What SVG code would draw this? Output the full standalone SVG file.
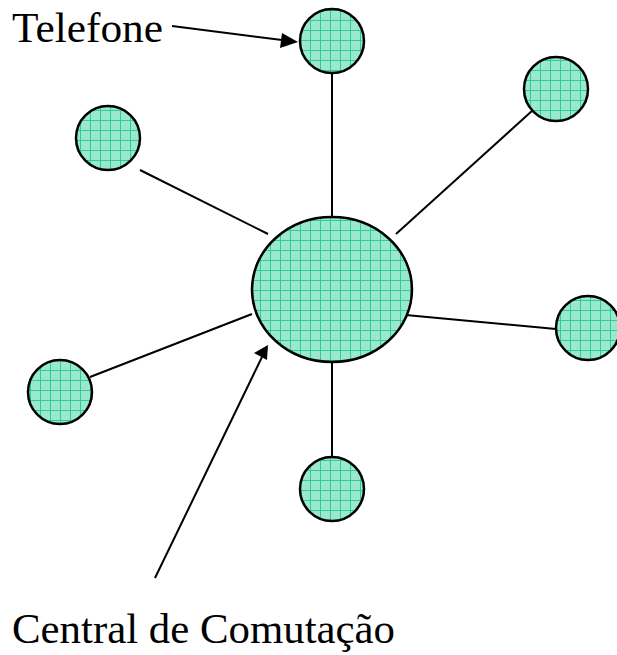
<svg xmlns="http://www.w3.org/2000/svg" width="617" height="655" viewBox="0 0 617 655">
<style>
.node{fill:url(#grid);stroke:#000;stroke-width:2.5}
.conn{stroke:#000;stroke-width:2;fill:none}
.lbl{font-family:"Liberation Serif","Times New Roman",serif;font-size:43px;fill:#000}
</style>
<defs>
<pattern id="grid" patternUnits="userSpaceOnUse" width="10" height="10">
<rect width="10" height="10" fill="#9AE8CE"/>
<path d="M0 0.5H10M0.5 0V10" stroke="#2FCC99" stroke-width="1"/>
</pattern>
</defs>
<rect width="617" height="655" fill="#fff"/>
<g id="connectors">
<line class="conn" x1="332" y1="73" x2="332" y2="217"/>
<line class="conn" x1="396" y1="234" x2="533" y2="110"/>
<line class="conn" x1="140" y1="170" x2="268" y2="234"/>
<line class="conn" x1="395" y1="314" x2="556" y2="329"/>
<line class="conn" x1="90" y1="377" x2="252" y2="314"/>
<line class="conn" x1="332" y1="362" x2="332" y2="457"/>
<line class="conn" x1="172" y1="26" x2="282" y2="40"/>
<path d="M298 42L282 33L280 48Z" fill="#000"/>
<line class="conn" x1="155" y1="578" x2="262" y2="357"/>
<path d="M268 345L254 353L267 360Z" fill="#000"/>
</g>
<g id="central"><ellipse class="node" cx="332" cy="289.5" rx="80" ry="72.5"/></g>
<g id="tel-top"><circle class="node" cx="332" cy="41" r="32"/></g>
<g id="tel-topright"><circle class="node" cx="556" cy="89" r="32"/></g>
<g id="tel-topleft"><circle class="node" cx="108" cy="138" r="32"/></g>
<g id="tel-right"><circle class="node" cx="588" cy="328" r="32"/></g>
<g id="tel-left"><circle class="node" cx="60" cy="392" r="32"/></g>
<g id="tel-bottom"><circle class="node" cx="332" cy="489" r="32"/></g>
<g id="labels">
<text class="lbl" x="12" y="42" textLength="151" lengthAdjust="spacingAndGlyphs">Telefone</text>
<text class="lbl" x="12" y="643" textLength="383" lengthAdjust="spacingAndGlyphs">Central de Comutação</text>
</g>
</svg>
